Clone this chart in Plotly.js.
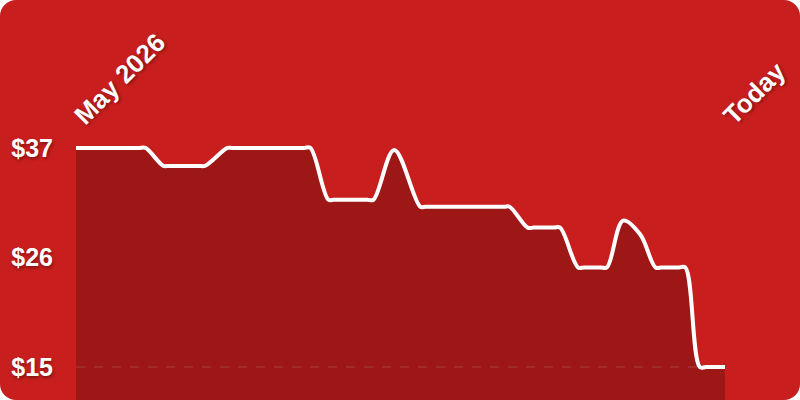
<!DOCTYPE html>
<html>
<head>
<meta charset="utf-8">
<script src="https://cdn.plot.ly/plotly-3.0.1.min.js"></script>
<style>
    html, body { margin: 0; padding: 0; background: #ffffff; }
    #card {
        width: 800px;
        height: 400px;
        border-radius: 16px;
        overflow: hidden;
        background: #c81e1e;
    }
    #chart { width: 800px; height: 400px; }
</style>
</head>
<body>
<div id="card"><div id="chart"></div></div>
<script>
// Days since the start of the window (price checks), and the price seen that day
const days = [0, 2.7, 5.4, 7.0, 7.7, 9.7, 10.3, 12, 13.6, 14.3, 16.8, 17.4,
              21.3, 25.3, 26, 28, 28.6, 30.4, 32.3, 33, 35.3, 38.2, 38.8,
              43.2, 47.5, 48.1, 50.1, 50.8, 53, 53.7, 55.7, 56.4, 58.2, 58.9,
              60.7, 62.6, 64.3, 65, 66.9, 67.6, 69.2, 69.9, 72];
const prices = [37, 37, 37, 37, 37, 35.2, 35.2, 35.2, 35.2, 35.2, 37, 37,
                37, 37, 37, 31.8, 31.8, 31.8, 31.8, 31.8, 36.8, 31.1, 31.1,
                31.1, 31.1, 31.1, 29.0, 29.0, 29.0, 29.0, 25.0, 25.0, 25.0, 25.0,
                29.7, 28.3, 25.0, 25.0, 25.0, 25.0, 15, 15, 15];

const xTickVals = [0, 72];
const xTickText = ['May 2026', 'Today'];
const yTickVals = [15, 26, 37];
const yTickText = ['$15', '$26', '$37'];

function labelFont(size) {
    return {
        family: '"Liberation Sans", Arial, sans-serif',
        size: size,
        color: '#ffffff',
        weight: 'bold',
        shadow: '1px 2px 3px rgba(0,0,0,0.35)'
    };
}

const trace = {
    x: days,
    y: prices,
    type: 'scatter',
    mode: 'lines',
    line: { color: '#ffffff', width: 4, shape: 'spline', smoothing: 1 },
    fill: 'tozeroy',
    fillcolor: 'rgba(0,0,0,0.21)',
    hoverinfo: 'skip'
};

const layout = {
    width: 800,
    height: 400,
    margin: { t: 136, r: 75, b: 0, l: 76 },
    paper_bgcolor: 'rgba(0,0,0,0)',
    plot_bgcolor: 'rgba(0,0,0,0)',
    showlegend: false,
    xaxis: {
        side: 'top',
        range: [0, 72],
        tickmode: 'array',
        tickvals: xTickVals,
        ticktext: xTickText,
        tickangle: -45,
        tickfont: labelFont(26),
        showgrid: false,
        zeroline: false,
        showline: false,
        ticks: ''
    },
    yaxis: {
        range: [11.69, 38.2],
        tickmode: 'array',
        tickvals: yTickVals,
        ticktext: yTickText,
        tickfont: labelFont(25),
        showgrid: false,
        zeroline: false,
        showline: false,
        ticks: '',
        ticklabelstandoff: 22
    },
    shapes: [{
        type: 'line',
        xref: 'paper', x0: 0, x1: 1,
        yref: 'y', y0: 15, y1: 15,
        line: { color: 'rgba(255,255,255,0.16)', width: 1.5, dash: 'dash' },
        layer: 'below'
    }]
};

Plotly.newPlot('chart', [trace], layout, { displayModeBar: false, staticPlot: true });
</script>
</body>
</html>
